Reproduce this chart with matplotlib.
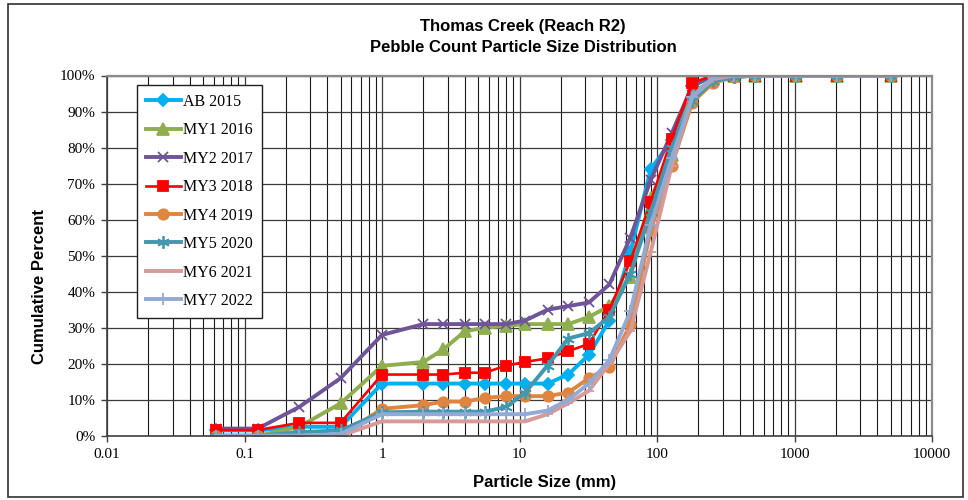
#!/usr/bin/env python3
# encoding: utf-8
"""
Cumulative particle size distribution from the yearly pebble counts,
Thomas Creek reach R2.
"""
import matplotlib
matplotlib.use("Agg")
import numpy as np
from matplotlib import pyplot as plt
from matplotlib.patches import Rectangle
from matplotlib.ticker import FixedLocator, NullFormatter, FuncFormatter

# upper bound of each size class (mm)
sizes = [0.062, 0.125, 0.25, 0.5, 1, 2, 2.8, 4, 5.6, 8, 11, 16, 22.6, 32, 45,
         64, 90, 128, 180, 256, 362, 512, 1024, 2048, 5000]

# cumulative percent finer, one list per survey
ab_2015 = [1.5, 1.5, 2.5, 2.5, 14.5, 14.5, 14.5, 14.5, 14.5, 14.5, 14.5, 14.5, 17, 22.5, 32,
           51, 74, 82, 97, 100, 100, 100, 100, 100, 100]
my1_2016 = [0, 0, 2.5, 9, 19.4, 20.5, 24, 29, 30, 30.5, 31, 31, 31, 33, 36,
            44, 66, 78, 95, 99, 100, 100, 100, 100, 100]
my2_2017 = [2, 2, 8, 16, 28, 31, 31, 31, 31, 31, 32, 35, 36, 37, 42,
            55, 71, 84, 97, 100, 100, 100, 100, 100, 100]
my3_2018 = [1.6, 1.6, 3.6, 3.6, 17, 17, 17, 17.5, 17.5, 19.5, 20.5, 21.5, 23.5, 25.5, 35,
            48.5, 65, 82.5, 98, 100, 100, 100, 100, 100, 100]
my4_2019 = [0, 0, 0, 0, 7.5, 8.5, 9.5, 9.5, 10.5, 11, 11, 11, 12, 16, 19,
            31, 57, 75, 92.5, 98, 99.5, 100, 100, 100, 100]
my5_2020 = [0, 0, 1, 1.5, 6.5, 6.7, 6.7, 6.7, 6.7, 8, 12, 19.5, 27, 28.5, 33,
            45, 62, 80, 93, 98.5, 99.5, 100, 100, 100, 100]
my6_2021 = [0, 0, 0, 0, 4, 4, 4, 4, 4, 4, 4, 6, 9, 12.5, 20,
            29, 51, 75, 94, 99, 100, 100, 100, 100, 100]
my7_2022 = [0, 0, 0, 0.5, 6, 6, 6, 6, 6, 6, 6, 7, 10, 14.5, 21,
            34.5, 58.5, 77, 94, 99.5, 100, 100, 100, 100, 100]

labels = ["AB 2015", "MY1 2016", "MY2 2017", "MY3 2018",
          "MY4 2019", "MY5 2020", "MY6 2021", "MY7 2022"]
series = [ab_2015, my1_2016, my2_2017, my3_2018, my4_2019, my5_2020, my6_2021, my7_2022]

# color, marker, marker size, line width
styles = [
    ("#00B0F0", "D", 6.5, 2.8),
    ("#8FAE4F", "^", 8, 2.8),
    ("#6F5597", "x", 7, 2.8),
    ("#FF0000", "s", 6.5, 1.9),
    ("#DE8640", "o", 7.5, 2.8),
    ("#4198AF", (6, 2, 0), 9, 2.8),
    ("#D79A98", "_", 7, 2.8),
    ("#92AAD4", "+", 9, 2.8),
]

SERIF = "Liberation Serif"
SANS = "Liberation Sans"


def main():
    fig = plt.figure(figsize=(9.68, 5.0), dpi=100)
    ax = fig.add_axes([107 / 968, 1 - 435.8 / 500, 825 / 968, 360.3 / 500])

    for vals, lab, (col, mk, ms, lw) in zip(series, labels, styles):
        ax.plot(sizes, vals, color=col, lw=lw, marker=mk, markersize=ms,
                markerfacecolor=col, markeredgecolor=col, markeredgewidth=1.3,
                label=lab, solid_joinstyle="round")

    ax.set_xscale("log")
    ax.set_xlim(0.01, 10000)
    ax.set_ylim(0, 100)

    majors = [10.0 ** k for k in range(-2, 5)]
    minors = [m * 10.0 ** k for k in range(-2, 4) for m in range(2, 10)]
    ax.xaxis.set_major_locator(FixedLocator(majors))
    ax.xaxis.set_minor_locator(FixedLocator(minors))
    ax.xaxis.set_minor_formatter(NullFormatter())
    ax.xaxis.set_major_formatter(FuncFormatter(lambda v, p: ("%g" % v)))
    ax.set_yticks(np.arange(0, 101, 10))
    ax.yaxis.set_major_formatter(FuncFormatter(lambda v, p: "%d%%" % v))

    ax.grid(which="major", axis="both", color="#3a3a3a", lw=0.9)
    ax.grid(which="minor", axis="x", color="#1a1a1a", lw=0.8)
    ax.set_axisbelow(True)

    ax.tick_params(axis="both", which="major", direction="out", length=4.5, width=1,
                   color="#404040", labelsize=11, pad=4)
    ax.tick_params(axis="x", which="minor", length=0)
    for lbl in ax.get_xticklabels() + ax.get_yticklabels():
        lbl.set_fontfamily(SERIF)

    for side in ("top", "right"):
        ax.spines[side].set_color("#8a8a8a")
        ax.spines[side].set_linewidth(1.6)
    for side in ("left", "bottom"):
        ax.spines[side].set_color("#404040")
        ax.spines[side].set_linewidth(1.2)

    leg = ax.legend(loc="upper left", bbox_to_anchor=(30 / 825, (435.8 - 85) / 360.3),
                    borderaxespad=0, frameon=True, fancybox=False, numpoints=1,
                    prop={"family": SERIF, "size": 11.5}, handlelength=2.2,
                    handletextpad=0.15, labelspacing=0.78, borderpad=0.55)
    leg.get_frame().set_edgecolor("#202020")
    leg.get_frame().set_linewidth(1.0)
    leg.get_frame().set_alpha(1)

    fig.text(523 / 968, 1 - 26 / 500, "Thomas Creek (Reach R2)", ha="center", va="center",
             fontfamily=SANS, fontweight="bold", fontsize=12)
    fig.text(523 / 968, 1 - 47 / 500, "Pebble Count Particle Size Distribution", ha="center",
             va="center", fontfamily=SANS, fontweight="bold", fontsize=12)
    fig.text(40 / 968, 1 - 287 / 500, "Cumulative Percent", rotation=90, ha="center",
             va="center", fontfamily=SANS, fontweight="bold", fontsize=12)
    fig.text(545 / 968, 1 - 483 / 500, "Particle Size (mm)", ha="center", va="center",
             fontfamily=SANS, fontweight="bold", fontsize=12)

    # outer chart border
    fig.patches.append(Rectangle((8 / 968, 3 / 500), 955 / 968, 493 / 500,
                                 transform=fig.transFigure, fill=False,
                                 edgecolor="#303030", lw=1.2))

    fig.savefig("out.png", dpi=100)
    plt.close(fig)


if __name__ == "__main__":
    main()
